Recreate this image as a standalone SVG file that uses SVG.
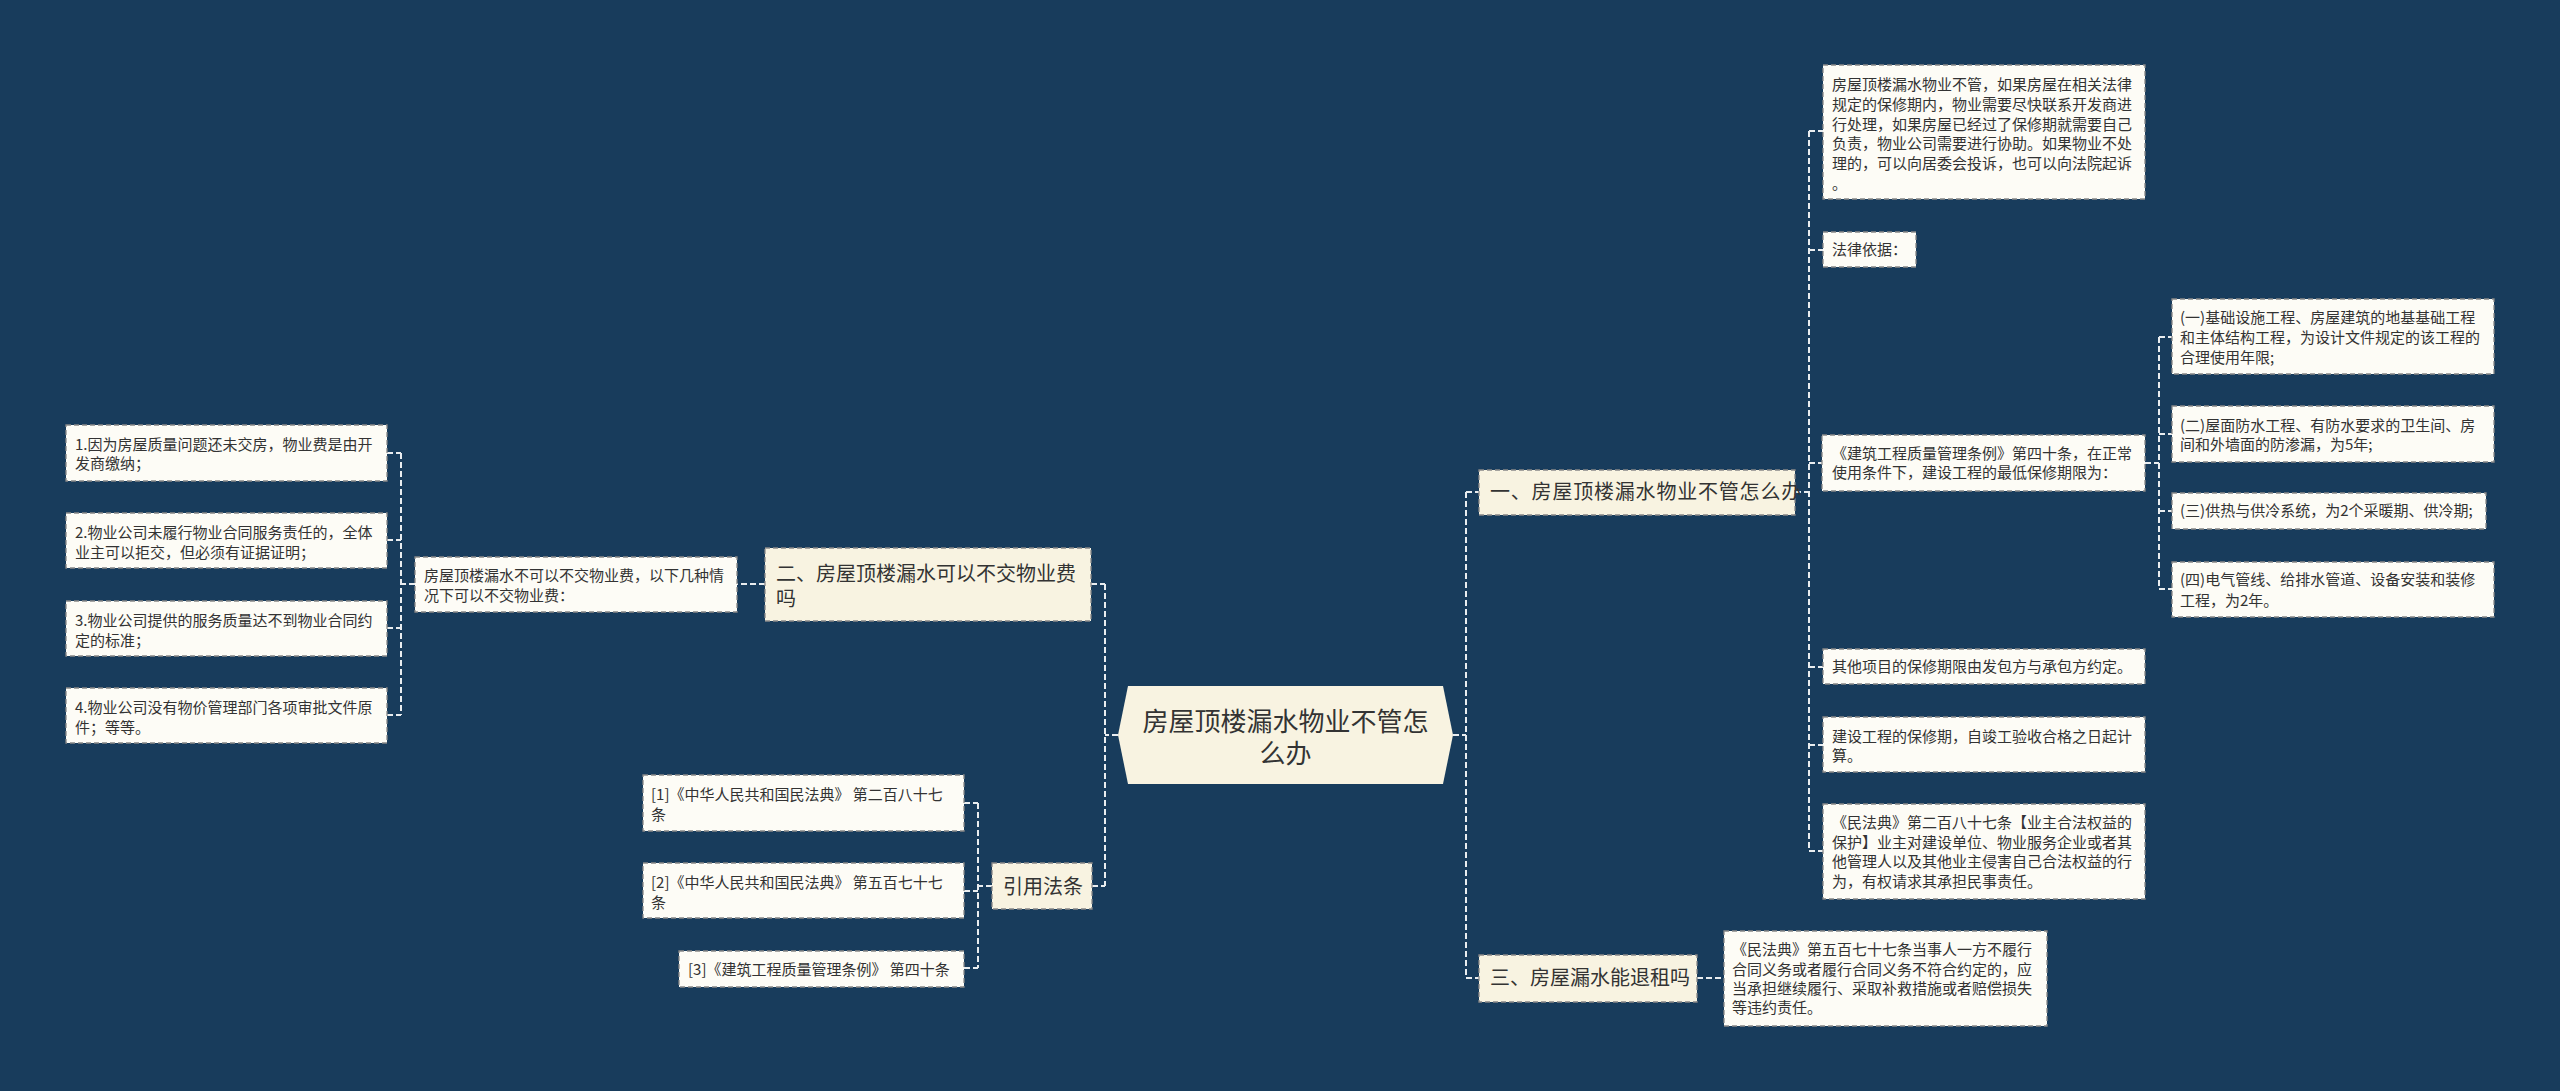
<svg xmlns="http://www.w3.org/2000/svg" width="2560" height="1091" viewBox="0 0 2560 1091">
<style>
text{font-family:"Noto Sans CJK SC","Noto Sans",sans-serif;fill:#333333}
.leaf rect{fill:#fdfcf6;stroke:#888888;stroke-width:1.3;stroke-dasharray:5 3}
.leaf text{font-size:15px}
.main rect{fill:#f8f3e1;stroke:#888888;stroke-width:1.3;stroke-dasharray:5 3}
.main text{font-size:20px}
.conn path{fill:none;stroke:#e9edf0;stroke-width:2;stroke-dasharray:6 3}
</style>
<rect x="0" y="0" width="2560" height="1091" fill="#183c5c"/>
<g class="conn">
<path d="M1118,735 H1105"/>
<path d="M1105,584 V886"/>
<path d="M1091,584 H1105"/>
<path d="M1092,886 H1105"/>
<path d="M765,584 H737"/>
<path d="M415,584 H401"/>
<path d="M401,453 V715"/>
<path d="M387,453 H401 M387,540 H401 M387,628 H401 M387,715 H401"/>
<path d="M992,886 H978"/>
<path d="M978,803 V968"/>
<path d="M964,803 H978 M964,891 H978 M964,968 H978"/>
<path d="M1453,735 H1466"/>
<path d="M1466,492 V978"/>
<path d="M1466,492 H1479 M1466,978 H1479"/>
<path d="M1795,492 H1809"/>
<path d="M1809,131 V851"/>
<path d="M1809,131 H1823 M1809,250 H1823 M1809,463 H1822 M1809,667 H1823 M1809,745 H1823 M1809,851 H1823"/>
<path d="M2145,463 H2159"/>
<path d="M2159,337 V589"/>
<path d="M2159,337 H2172 M2159,434 H2172 M2159,511 H2172 M2159,589 H2172"/>
<path d="M1697,978 H1724"/>
</g>
<g id="center">
<polygon points="1128,686 1443,686 1453,735 1443,784 1128,784 1118,735" fill="#f8f3e1"/>
<text x="1285.5" y="731" font-size="26" text-anchor="middle">房屋顶楼漏水物业不管怎</text>
<text x="1285.5" y="763" font-size="26" text-anchor="middle">么办</text>
</g>
<g id="n2" class="main">
<rect x="765" y="548" width="326" height="73"/>
<text x="776" y="581">二、房屋顶楼漏水可以不交物业费</text>
<text x="776" y="606">吗</text>
</g>
<g id="ref" class="main">
<rect x="992" y="863" width="100" height="46"/>
<text x="1003" y="894">引用法条</text>
</g>
<g id="n1" class="main">
<rect x="1479" y="470" width="316" height="45"/>
<text x="1490" y="499" letter-spacing="0.8">一、房屋顶楼漏水物业不管怎么办</text>
</g>
<g id="n3" class="main">
<rect x="1479" y="955" width="218" height="47"/>
<text x="1490" y="985">三、房屋漏水能退租吗</text>
</g>
<g id="l-mid" class="leaf">
<rect x="415" y="557" width="322" height="55"/>
<text x="424" y="581">房屋顶楼漏水不可以不交物业费，以下几种情</text>
<text x="424" y="601">况下可以不交物业费：</text>
</g>
<g id="l-1" class="leaf">
<rect x="66" y="425" width="321" height="56"/>
<text x="75" y="450">1.因为房屋质量问题还未交房，物业费是由开</text>
<text x="75" y="469">发商缴纳；</text>
</g>
<g id="l-2" class="leaf">
<rect x="66" y="513" width="321" height="55"/>
<text x="75" y="538">2.物业公司未履行物业合同服务责任的，全体</text>
<text x="75" y="558">业主可以拒交，但必须有证据证明；</text>
</g>
<g id="l-3" class="leaf">
<rect x="66" y="601" width="321" height="55"/>
<text x="75" y="626">3.物业公司提供的服务质量达不到物业合同约</text>
<text x="75" y="646">定的标准；</text>
</g>
<g id="l-4" class="leaf">
<rect x="66" y="688" width="321" height="55"/>
<text x="75" y="713">4.物业公司没有物价管理部门各项审批文件原</text>
<text x="75" y="733">件；等等。</text>
</g>
<g id="r-1" class="leaf">
<rect x="643" y="775" width="321" height="56"/>
<text x="651" y="800">[1]《中华人民共和国民法典》 第二百八十七</text>
<text x="651" y="820">条</text>
</g>
<g id="r-2" class="leaf">
<rect x="643" y="863" width="321" height="55"/>
<text x="651" y="888">[2]《中华人民共和国民法典》 第五百七十七</text>
<text x="651" y="908">条</text>
</g>
<g id="r-3" class="leaf">
<rect x="679" y="951" width="285" height="36"/>
<text x="688" y="975">[3]《建筑工程质量管理条例》 第四十条</text>
</g>
<g id="a-top" class="leaf">
<rect x="1823" y="65" width="322" height="134"/>
<text x="1832" y="90">房屋顶楼漏水物业不管，如果房屋在相关法律</text>
<text x="1832" y="110">规定的保修期内，物业需要尽快联系开发商进</text>
<text x="1832" y="130">行处理，如果房屋已经过了保修期就需要自己</text>
<text x="1832" y="149">负责，物业公司需要进行协助。如果物业不处</text>
<text x="1832" y="169">理的，可以向居委会投诉，也可以向法院起诉</text>
<text x="1832" y="189">。</text>
</g>
<g id="a-law" class="leaf">
<rect x="1823" y="232" width="93" height="35"/>
<text x="1832" y="255">法律依据：</text>
</g>
<g id="a-build" class="leaf">
<rect x="1822" y="435" width="323" height="56"/>
<text x="1832" y="459">《建筑工程质量管理条例》第四十条，在正常</text>
<text x="1832" y="478">使用条件下，建设工程的最低保修期限为：</text>
</g>
<g id="a-other" class="leaf">
<rect x="1823" y="649" width="322" height="35"/>
<text x="1832" y="672">其他项目的保修期限由发包方与承包方约定。</text>
</g>
<g id="a-start" class="leaf">
<rect x="1823" y="717" width="322" height="55"/>
<text x="1832" y="742">建设工程的保修期，自竣工验收合格之日起计</text>
<text x="1832" y="761">算。</text>
</g>
<g id="a-civil" class="leaf">
<rect x="1823" y="804" width="322" height="95"/>
<text x="1832" y="828">《民法典》第二百八十七条【业主合法权益的</text>
<text x="1832" y="848">保护】业主对建设单位、物业服务企业或者其</text>
<text x="1832" y="867">他管理人以及其他业主侵害自己合法权益的行</text>
<text x="1832" y="887">为，有权请求其承担民事责任。</text>
</g>
<g id="b-1" class="leaf">
<rect x="2172" y="299" width="322" height="75"/>
<text x="2180" y="323">(一)基础设施工程、房屋建筑的地基基础工程</text>
<text x="2180" y="343">和主体结构工程，为设计文件规定的该工程的</text>
<text x="2180" y="363">合理使用年限;</text>
</g>
<g id="b-2" class="leaf">
<rect x="2172" y="406" width="322" height="56"/>
<text x="2180" y="431">(二)屋面防水工程、有防水要求的卫生间、房</text>
<text x="2180" y="450">间和外墙面的防渗漏，为5年;</text>
</g>
<g id="b-3" class="leaf">
<rect x="2172" y="493" width="314" height="36"/>
<text x="2180" y="516">(三)供热与供冷系统，为2个采暖期、供冷期;</text>
</g>
<g id="b-4" class="leaf">
<rect x="2172" y="562" width="322" height="55"/>
<text x="2180" y="585">(四)电气管线、给排水管道、设备安装和装修</text>
<text x="2180" y="606">工程，为2年。</text>
</g>
<g id="c-1" class="leaf">
<rect x="1724" y="931" width="323" height="95"/>
<text x="1732" y="955">《民法典》第五百七十七条当事人一方不履行</text>
<text x="1732" y="975">合同义务或者履行合同义务不符合约定的，应</text>
<text x="1732" y="994">当承担继续履行、采取补救措施或者赔偿损失</text>
<text x="1732" y="1013">等违约责任。</text>
</g>
</svg>
